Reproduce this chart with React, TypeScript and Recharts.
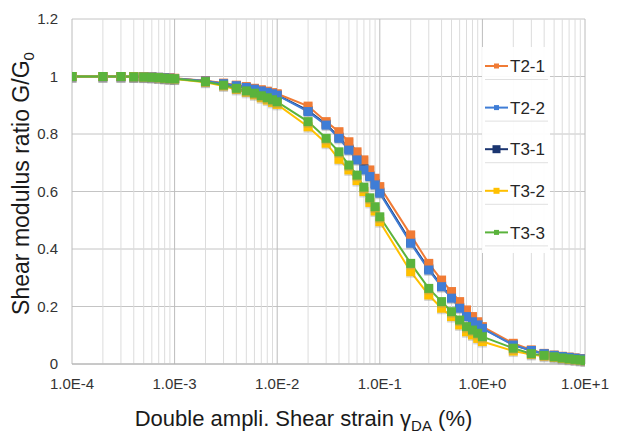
import React from 'react';
import { LineChart, Line, XAxis, YAxis, CartesianGrid, Legend, Label } from 'recharts';

// Double amplitude shear strain (%)
const strain = [
  0.0001, 0.0002, 0.0003, 0.0004, 0.0005, 0.0006, 0.0007, 0.0008, 0.0009,
  0.001, 0.002, 0.003, 0.004, 0.005, 0.006, 0.007, 0.008, 0.009,
  0.01, 0.02, 0.03, 0.04, 0.05, 0.06, 0.07, 0.08, 0.09,
  0.1, 0.2, 0.3, 0.4, 0.5, 0.6, 0.7, 0.8, 0.9,
  1, 2, 3, 4, 5, 6, 7, 8, 9, 10,
];

const t21 = [
  1.0, 1.0, 1.0, 1.0, 0.999, 0.998, 0.997, 0.996, 0.995,
  0.994, 0.985, 0.977, 0.97, 0.965, 0.959, 0.954, 0.949, 0.944,
  0.94, 0.897, 0.843, 0.808, 0.773, 0.738, 0.71, 0.675, 0.646,
  0.617, 0.449, 0.35, 0.292, 0.252, 0.217, 0.188, 0.165, 0.147,
  0.13, 0.072, 0.049, 0.037, 0.031, 0.027, 0.024, 0.021, 0.019, 0.017,
];

const t22 = [
  1.0, 1.0, 1.0, 0.999, 0.999, 0.998, 0.997, 0.995, 0.994,
  0.993, 0.984, 0.975, 0.968, 0.962, 0.956, 0.95, 0.945, 0.94,
  0.935, 0.878, 0.831, 0.785, 0.744, 0.71, 0.675, 0.652, 0.623,
  0.594, 0.42, 0.327, 0.269, 0.229, 0.194, 0.165, 0.147, 0.136,
  0.124, 0.066, 0.047, 0.036, 0.03, 0.026, 0.023, 0.02, 0.018, 0.016,
];

const t31 = [
  1.0, 1.0, 1.0, 0.999, 0.999, 0.998, 0.997, 0.995, 0.994,
  0.993, 0.984, 0.975, 0.968, 0.962, 0.956, 0.951, 0.946, 0.941,
  0.936, 0.881, 0.834, 0.789, 0.748, 0.713, 0.68, 0.655, 0.627,
  0.598, 0.424, 0.331, 0.272, 0.232, 0.197, 0.168, 0.149, 0.138,
  0.125, 0.067, 0.047, 0.036, 0.03, 0.026, 0.023, 0.02, 0.018, 0.016,
];

const t32 = [
  1.0, 1.0, 1.0, 0.999, 0.998, 0.997, 0.995, 0.993, 0.992,
  0.991, 0.98, 0.967, 0.955, 0.945, 0.936, 0.926, 0.918, 0.91,
  0.903, 0.825, 0.768, 0.712, 0.675, 0.638, 0.6, 0.562, 0.532,
  0.495, 0.321, 0.24, 0.194, 0.165, 0.136, 0.112, 0.101, 0.089,
  0.078, 0.045, 0.033, 0.027, 0.023, 0.019, 0.016, 0.014, 0.012, 0.011,
];

const t33 = [
  1.0, 1.0, 1.0, 0.999, 0.998, 0.997, 0.996, 0.994, 0.993,
  0.992, 0.982, 0.97, 0.959, 0.95, 0.942, 0.933, 0.926, 0.919,
  0.912, 0.843, 0.785, 0.738, 0.692, 0.657, 0.615, 0.578, 0.547,
  0.512, 0.35, 0.263, 0.217, 0.182, 0.153, 0.13, 0.118, 0.107,
  0.095, 0.055, 0.036, 0.03, 0.025, 0.021, 0.018, 0.016, 0.014, 0.012,
];

const xTicks = strain;
const yTicks = [0, 0.2, 0.4, 0.6, 0.8, 1.0, 1.2];
const majorExponents = [-4, -3, -2, -1, 0, 1];

const seriesNames = ['T2-1', 'T2-2', 'T3-1', 'T3-2', 'T3-3'];
const seriesKeys = ['t21', 't22', 't31', 't32', 't33'];
const seriesColors = ['#F07B35', '#3F7DD6', '#1B3570', '#FFC000', '#5AB33C'];
const legendMarkerSizes = [5, 5, 8, 6, 5];

const data = strain.map((x, i) => ({
  x,
  t21: t21[i],
  t22: t22[i],
  t31: t31[i],
  t32: t32[i],
  t33: t33[i],
}));

const FONT = '"Liberation Sans", Arial, Helvetica, sans-serif';

const fmtX = (v: number) => {
  const e = Math.round(Math.log10(v));
  if (Math.abs(v - Math.pow(10, e)) / v > 1e-6 || !majorExponents.includes(e)) return '';
  return '1.0E' + (e >= 0 ? '+' : '-') + Math.abs(e);
};

const fmtY = (v: number) => String(Number(v.toFixed(1)));

const makeDot = (color: string) => (props: any) => {
  const { cx, cy, index } = props;
  if (cx == null || cy == null) return <g key={`n${index}`} />;
  return (
    <g key={`d${index}`}>
      <rect x={cx - 4.5} y={cy - 3} width={9} height={9} fill="#8c8c8c" opacity={0.35} />
      <rect x={cx - 4.5} y={cy - 4.5} width={9} height={9} fill={color} />
    </g>
  );
};

const vLine = (p: any) => {
  const idx = p.index ?? 0;
  const major = idx % 9 === 0;
  return (
    <line
      key={`v${idx}`}
      x1={p.x1}
      x2={p.x2}
      y1={p.y1}
      y2={p.y2}
      stroke={major ? '#bcbcbc' : '#dcdcdc'}
      strokeWidth={1}
    />
  );
};

const hLine = (p: any) => (
  <line
    key={`h${p.index}`}
    x1={p.x1}
    x2={p.x2}
    y1={p.y1}
    y2={p.y2}
    stroke="#c4c4c4"
    strokeWidth={1}
  />
);

const renderLegend = () => (
  <svg width={68} height={206} style={{ display: 'block' }}>
    <rect x={0} y={0} width={68} height={206} fill="#ffffff" opacity={0.92} />
    {seriesNames.map((name, i) => {
      const cy = 19 + i * 41.6;
      const s = legendMarkerSizes[i];
      return (
        <g key={name}>
          <line x1={3} x2={26} y1={cy} y2={cy} stroke={seriesColors[i]} strokeWidth={2} />
          <rect x={14.5 - s / 2} y={cy - s / 2} width={s} height={s} fill={seriesColors[i]} />
          <text x={28} y={cy} dy="0.36em" fontSize={17} fontFamily={FONT} fill="#262626">
            {name}
          </text>
          <line x1={3} x2={66} y1={cy + 13.5} y2={cy + 13.5} stroke="#e0e0e0" strokeWidth={1} />
        </g>
      );
    })}
  </svg>
);

const XTitle = (props: any) => {
  const vb = props.viewBox || {};
  const cx = vb.x + vb.width / 2 - 25;
  const y = vb.y + 62;
  return (
    <text x={cx} y={y} textAnchor="middle" fontSize={22} fontFamily={FONT} fill="#1a1a1a">
      <tspan>Double ampli. Shear strain γ</tspan>
      <tspan fontSize={15} dy={5}>DA</tspan>
      <tspan dy={-5}> (%)</tspan>
    </text>
  );
};

const YTitle = (props: any) => {
  const vb = props.viewBox || {};
  const x = 29;
  const cy = vb.y + vb.height / 2 - 8;
  return (
    <text
      x={x}
      y={cy}
      textAnchor="middle"
      fontSize={23}
      fontFamily={FONT}
      fill="#1a1a1a"
      transform={`rotate(-90 ${x} ${cy})`}
    >
      <tspan>Shear modulus ratio G/G</tspan>
      <tspan fontSize={15} dy={5}>0</tspan>
    </text>
  );
};

const drawOrder = [2, 0, 1, 3, 4];

export default function App() {
  return (
    <div style={{ position: 'absolute', left: 0, top: 0, width: 618, height: 438, background: '#fff' }}>
      <LineChart
        width={618}
        height={438}
        data={data}
        margin={{ top: 19, right: 33, bottom: 0, left: 0 }}
        style={{ fontFamily: FONT }}
      >
        <CartesianGrid vertical={vLine} horizontal={hLine} />
        <XAxis
          dataKey="x"
          type="number"
          scale="log"
          domain={[0.0001, 10]}
          ticks={xTicks}
          interval={0}
          tickFormatter={fmtX}
          height={74}
          tickLine={false}
          tickSize={6}
          tickMargin={8}
          axisLine={{ stroke: '#b0b0b0' }}
          tick={{ fontSize: 15, fill: '#333333', fontFamily: FONT }}
          allowDataOverflow
        >
          <Label content={<XTitle />} />
        </XAxis>
        <YAxis
          type="number"
          domain={[0, 1.2]}
          ticks={yTicks}
          interval={0}
          tickFormatter={fmtY}
          width={72}
          tickLine={false}
          tickSize={6}
          tickMargin={8}
          axisLine={false}
          tick={{ fontSize: 15, fill: '#333333', fontFamily: FONT }}
        >
          <Label content={<YTitle />} />
        </YAxis>
        <Legend
          layout="vertical"
          align="center"
          verticalAlign="middle"
          content={renderLegend}
          wrapperStyle={{ left: 482, top: 47, width: 68, height: 206 }}
        />
        {drawOrder.map((i) => (
          <Line
            key={seriesKeys[i]}
            type="linear"
            dataKey={seriesKeys[i]}
            name={seriesNames[i]}
            stroke={seriesColors[i]}
            strokeWidth={2}
            dot={makeDot(seriesColors[i])}
            activeDot={false}
            isAnimationActive={false}
          />
        ))}
      </LineChart>
    </div>
  );
}
